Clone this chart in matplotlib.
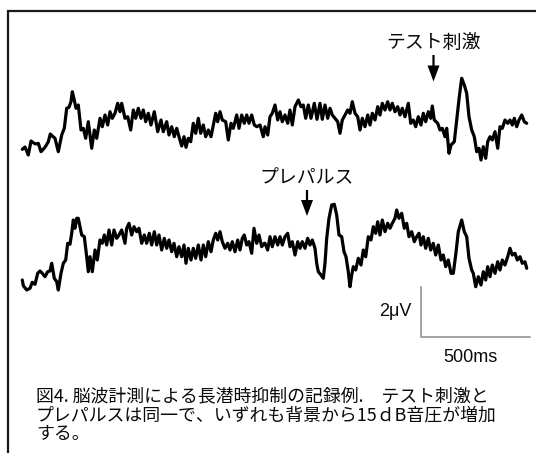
import matplotlib
matplotlib.use("Agg")
import matplotlib.pyplot as plt

# ---- data (horizontal position in px / vertical position in px) ----
top_x = [22.3, 25, 28.3, 31, 33.3, 35.7, 38.3, 41, 45, 48.3, 50.3, 52.3, 55, 58.3, 61.7, 64.3,
         66.7, 69, 71, 72.3, 74.3, 76, 78.3, 81, 83.3, 85.7, 88.3, 91.7, 94.3, 96.7, 100, 102.3,
         105, 107.7, 110, 112.3, 115, 117.7, 120, 121.7, 125, 127.7, 130.7, 133.3, 135.7, 138.3,
         141, 143.3, 145.7, 148.3, 151, 154.3, 157.7, 161, 163.3, 166.7, 169, 171.7, 174.3, 176.7,
         179, 181.7, 184, 186, 188.3, 190.7, 193.3, 195.7, 198.3, 200.7, 203.3, 205.7, 208.3, 211,
         213.3, 215.7, 217.7, 220, 222.3, 225.7, 228.3, 231, 233.3, 236.7, 239, 241.7, 244.3, 246.7,
         249, 251.7, 254.3, 256.7, 260, 263.3,
         265, 267.7, 270, 272.3, 275, 277.7, 280, 282.3, 285, 287.7, 290, 292.3, 295, 298.3, 301,
         303.3, 305.7, 308.3, 311, 314.3, 317, 320, 322.3, 325, 327.7, 330, 332.3, 335, 337.7, 340,
         342.3, 345, 347.7, 350, 352.3, 355, 357.7, 360, 362.3, 365, 367.7, 370, 372.3, 375, 377.7,
         380, 382.3, 385, 387.7, 390, 392.3, 395, 397.7, 400, 402.3, 405, 408.3, 410.7, 413.3, 415.7,
         418.3, 421, 423.3, 425.7, 428.3, 430.7, 432.3, 434.3, 437.7, 440, 442.3, 445, 446.7, 449,
         451, 454.3, 456.7, 459.3, 461.7, 464.3, 466.7, 469, 471.7, 474.3, 476.7, 479, 481, 483.3,
         485.7, 487.7, 490, 492.3, 495, 497.7, 500, 502.3, 505, 507.7, 510, 512.3, 514.3, 516.7,
         519, 521.7, 524.3, 526.7]
top_y = [149.3, 147, 155, 141, 142.7, 144, 143.3, 151.7, 147.3, 141.7, 134, 136, 138.3, 151.7, 135,
         128.3, 108.3, 107.3, 101.7, 91.7, 100, 108.3, 105, 130, 128.3, 138.3, 121.7, 148.3, 130,
         138.3, 118.3, 126.7, 115, 125, 111.7, 118.3, 113.3, 103.3, 111.7, 103.3, 118.3, 116.7, 130,
         110, 118.3, 108.3, 118.3, 110, 121.7, 113.3, 125, 111.7, 131.7, 120, 131.7, 121.7, 135,
         126.7, 136.7, 128.3, 136.7, 146, 136.7, 147.3, 138.3, 141.7, 123.3, 133.3, 118.3, 133.3, 125,
         136.7, 130, 136.7, 125, 113.3, 121.7, 111.7, 120, 121.7, 140, 123.3, 128.3, 115, 128.3, 115,
         123.3, 115, 123.3, 115, 125, 126.7, 125, 136.7,
         126.7, 135, 116.7, 113.3, 105, 120, 111.7, 121.7, 115, 123.3, 110, 125, 106.7, 100, 106.7,
         105, 118.3, 105, 118.3, 103.3, 119.3, 103.3, 119.3, 105, 118.3, 108.3, 115, 118.3, 121.7,
         133.3, 120, 115, 110, 113.3, 101.7, 113.3, 116.7, 130, 118.3, 126.7, 115, 125, 113.3, 120,
         106.7, 115, 103.3, 110, 101.7, 110, 103.3, 111.7, 106.7, 115, 108.3, 116.7, 103.3, 123.3,
         120, 126.7, 116.7, 125, 113.3, 121.7, 111.7, 118.3, 106, 120, 123.3, 130, 128.3, 136.7,
         128.3, 153.3, 145, 141.7, 120, 96.7, 78.3, 85, 93.3, 116.7, 130, 136.7, 151.7, 148.3, 160,
         146.7, 158.3, 141.7, 136.7, 140, 131.7, 148.3, 126.7, 128.3, 120, 123.3, 120, 125, 118.3,
         126.7, 120, 115, 121.7, 123.3]

bot_x = [22.3, 23.3, 26.7, 30, 32.3, 35, 37.7, 40, 42.3, 45, 47.7, 50, 51.7, 54.3, 56.7, 58.3, 61,
         63.3, 65.7, 67.7, 70, 71.7, 73.3, 75, 76.7, 78.3, 80, 81.7, 84.3, 86.7, 88.3, 90, 92.3, 95,
         97.3, 100, 102.3, 104.3, 106.7, 109, 111.7, 114, 116.7, 119, 121.7, 125, 126.7, 129, 131.7,
         134, 136.7, 139, 141.7, 144.3, 146.7, 149.3, 151.7, 154.3, 156.7, 159, 161.7, 164.3, 166.7,
         169, 171.7, 174, 176.7, 179, 181.7, 184, 186, 188.3, 191, 193.3, 195.7, 198.3, 201, 203.3,
         205.7, 208.3, 211, 213.3, 215.7, 217.7, 220, 222.3, 225, 227.7, 230, 232.3, 235, 237.7, 240,
         242.3, 244.3, 246.7, 249, 251.7, 254, 256.7, 259, 261.7, 264.3,
         265, 267.7, 270, 272.3, 275, 277.7, 280, 282.3, 285, 287.7, 290, 292.3, 295, 297.7, 300,
         302.3, 305, 307.7, 310, 312.3, 315, 316.7, 318.3, 321, 323.3, 325, 326.7, 329, 331.7, 334.3,
         336.7, 339, 341.7, 344, 346, 348.3, 350, 351.7, 353.3, 355.7, 358.3, 361, 363.3, 365.7,
         368.3, 371, 373.3, 375.7, 377.7, 380, 382.3, 385, 387.7, 390, 392.3, 395, 396.7, 399, 401.7,
         404.3, 406.7, 409, 411.7, 414.3, 416.7, 419, 421, 423.3, 425.7, 428.3, 430.7, 433.3, 435.7,
         438.3, 441, 443.3, 445.7, 448.3, 451, 453.3, 455.7, 458.3, 461.7, 464.3, 466.7, 469, 471.7,
         473.3, 475.7, 478.3, 481, 483.3, 485.7, 487.7, 490, 492.3, 495, 497.7, 500, 502.3, 505,
         507.7, 510, 512.3, 515, 517.3, 520, 522.3, 525, 526.7]
bot_y = [280, 285.7, 290, 288.3, 282.3, 284.3, 273.3, 271, 273.3, 276.7, 271.7, 271, 263.3, 278.3,
         281.7, 290, 273.3, 263.3, 260, 243.3, 244.3, 233.3, 220, 228.3, 218.3, 218.3, 226.7, 235,
         236.7, 256.7, 271.7, 256.7, 271.7, 250, 260, 240, 243.3, 235, 245, 230, 245, 230, 238.3, 235,
         230, 243.3, 228.3, 223.3, 235, 226.7, 231.7, 228.3, 243.3, 235, 243.3, 233.3, 245, 231.7,
         245, 235, 250, 238.3, 248.3, 240, 251.7, 243.3, 256.7, 246.7, 256.7, 245, 263.3, 248.3, 260,
         248.3, 258.3, 245, 260, 245, 256.7, 241.7, 251.7, 240, 233.3, 240, 231.7, 241.7, 248.3,
         243.3, 250, 241.7, 251.7, 240, 250, 238.3, 235, 245, 241.7, 253.3, 228.3, 243.3, 235, 246.7,
         243.3,
         243.3, 250, 236.7, 246.7, 236.7, 245, 236.7, 245, 236.7, 233.3, 246.7, 241.7, 255, 241.7,
         248.3, 241.7, 248.3, 238.3, 245, 240, 248.3, 263.3, 271.7, 275, 278.3, 263.3, 238.3, 218.3,
         205, 204.3, 215, 235, 236.7, 251.7, 256.7, 271.7, 286.7, 275, 266.7, 270, 258.3, 265, 250,
         256.7, 236.7, 240, 226.7, 233.3, 221.7, 235, 220, 231.7, 223.3, 228.3, 223.3, 218.3, 210,
         218.3, 213.3, 228.3, 223.3, 236.7, 231.7, 241.7, 236.7, 233.3, 245, 236.7, 248.3, 238.3, 250,
         243.3, 255, 245, 260, 255, 266.7, 260, 273.3, 273.3, 255, 231.7, 220, 231.7, 236.7, 258.3,
         270, 273.3, 286.7, 276.7, 285, 271.7, 280, 266.7, 276.7, 265, 273.3, 261.7, 270, 260, 265,
         256.7, 248.3, 255, 253.3, 260, 256.7, 263.3, 261.7, 268.3]

stim_labels = ["テスト刺激", "プレパルス"]
stim_x = [433.5, 307.0]          # arrow positions
stim_tail_y = [55.0, 190.0]
stim_tip_y = [81.5, 216.0]
label_y = [42.5, 177.5]

scale_labels = ["2μV", "500ms"]
caption = ["図4. 脳波計測による長潜時抑制の記録例.　テスト刺激と",
           "プレパルスは同一で、いずれも背景から15ｄB音圧が増加",
           "する。"]

W, H = 536, 453
fig = plt.figure(figsize=(W / 100, H / 100), dpi=100)
ax = fig.add_axes([0, 0, 1, 1])
ax.set_xlim(0, W)
ax.set_ylim(H, 0)
ax.axis("off")

jp = ["Noto Sans CJK JP", "DejaVu Sans"]
lat = ["Liberation Sans", "DejaVu Sans"]

# frame (top and left only visible)
ax.plot([7.8, 7.8, W + 5], [H + 5, 11, 11], color="#1a1a1a", lw=1.6, solid_joinstyle="miter")

# traces
for xs, ys in [(top_x, top_y), (bot_x, bot_y)]:
    ax.plot(xs, ys, color="black", lw=2.3, solid_joinstyle="round", solid_capstyle="round")

# stimulus arrows + labels
for lab, x, t0, t1, ly in zip(stim_labels, stim_x, stim_tail_y, stim_tip_y, label_y):
    ax.arrow(x, t0, 0, t1 - t0, width=2.2, head_width=12, head_length=16,
             length_includes_head=True, color="black", lw=0)
    ax.text(x, ly, lab, family=jp, fontsize=13.6, ha="center", va="center", color="#0a0a0a")

# scale bar
bx, by_top, by_bot, bx_end = 420.5, 287, 337, 530
ax.plot([bx, bx, bx_end], [by_top, by_bot, by_bot], color="#8a8a8a", lw=1.1)
ax.text(412, 312, scale_labels[0], family=lat, fontsize=13,
        ha="right", va="center", color="#0a0a0a")
ax.text(470, 357, scale_labels[1], family=lat, fontsize=13,
        ha="center", va="center", color="#0a0a0a")

# caption
for line, yy in zip(caption, [396.5, 415.3, 434.1]):
    ax.text(36, yy, line, family=jp, fontsize=12.9, ha="left", va="center", color="#0a0a0a")

fig.savefig("out.png", dpi=100)
